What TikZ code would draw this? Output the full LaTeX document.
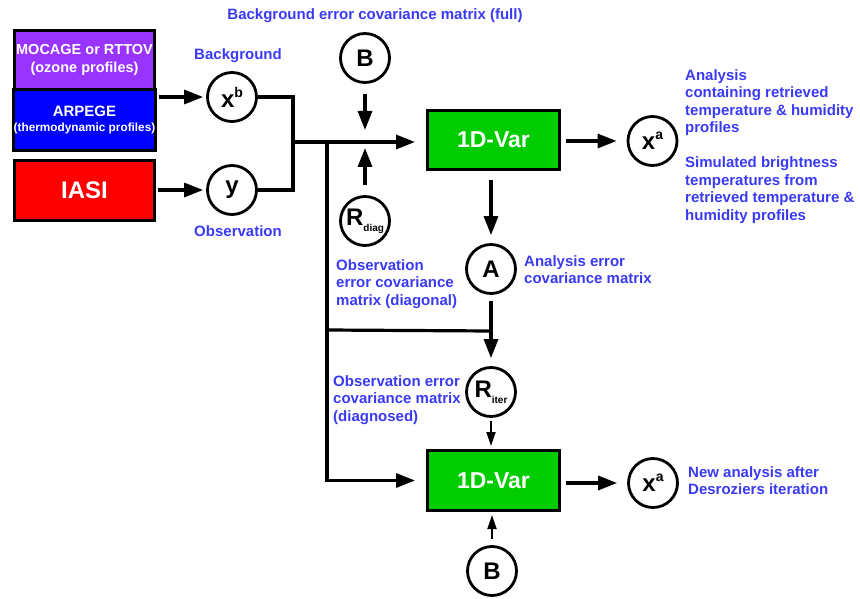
\documentclass[tikz,border=0pt]{standalone}
\usepackage{fontspec}
\setmainfont{Liberation Sans}
\usetikzlibrary{arrows.meta}

\definecolor{noteblue}{RGB}{58,58,245}
\definecolor{vargreen}{RGB}{0,204,0}
\definecolor{ozonepurple}{RGB}{153,51,255}

\newcommand{\supof}[2]{#1\raisebox{0.42em}{\fontsize{14}{14}\selectfont #2}}
\newcommand{\subof}[2]{#1\raisebox{-0.25em}{\fontsize{10}{10}\selectfont #2}}

\tikzset{
  varcircle/.style={circle, draw, line width=2.8pt, minimum size=49pt, inner sep=0pt,
    font=\bfseries\fontsize{24}{24}\selectfont},
  source/.style={draw, line width=3pt, minimum width=140pt, inner sep=0pt,
    text=white, align=center},
  solver/.style={draw, line width=3pt, fill=vargreen, minimum width=132pt,
    minimum height=59pt, text=white, font=\bfseries\fontsize{23}{23}\selectfont},
  note/.style={text=noteblue, align=left, inner sep=0pt,
    font=\bfseries\fontsize{15}{17.5}\selectfont},
  flow/.style={line width=3.2pt, -{Triangle[length=19pt,width=14pt]}},
  thinflow/.style={line width=1.8pt, -{Triangle[length=14pt,width=9pt]}},
  wire/.style={line width=3.2pt}
}

\begin{document}
\begin{tikzpicture}[x=1pt,y=-1pt]
    \useasboundingbox (0,0) rectangle (860,599);

    % Model and instrument inputs
    \node[source, fill=ozonepurple, minimum height=59pt,
        font=\bfseries\fontsize{14.5}{18}\selectfont] (mocage) at (84.5,60.4)
        {MOCAGE or RTTOV\\(ozone profiles)};
    \node[source, fill=blue, minimum height=60.5pt,
        font=\bfseries\fontsize{15}{15}\selectfont] (arpege) at (84.5,120.2)
        {ARPEGE\\\fontsize{11.8}{14}\selectfont(thermodynamic profiles)};
    \node[source, fill=red, minimum height=60pt,
        font=\bfseries\fontsize{24}{24}\selectfont] (iasi) at (84.5,190.5) {IASI};

    % Background and observation
    \node[varcircle] (xb) at (232,97) {\supof{x}{b}};
    \node[varcircle] (obs) at (232,190) {y};
    \node[note] (bgtext) at (238,56) {Background};
    \node[note] (obstext) at (238,231) {Observation};

    % First 1D-Var
    \node[varcircle] (bfull) at (365,58) {B};
    \node[varcircle] (rdiag) at (365,221) {\subof{R}{diag}};
    \node[solver] (var) at (493.5,140) {1D-Var};
    \node[varcircle] (xa) at (652.5,141) {\supof{x}{a}};
    \node[varcircle] (aerr) at (491,269) {A};

    % Second 1D-Var
    \node[varcircle] (riter) at (491,392) {\subof{R}{iter}};
    \node[solver, minimum height=60pt] (newvar) at (493.5,480.5) {1D-Var};
    \node[varcircle] (newxa) at (653,483) {\supof{x}{a}};
    \node[varcircle] (bnew) at (492,571) {B};

    % Junctions
    \coordinate (join) at (293,142);
    \coordinate (fork) at (327,142);
    \coordinate (bend) at (327,330);
    \coordinate (merge) at (491,331);
    \coordinate (inb) at (365,130);
    \coordinate (inr) at (365,148);

    % Connectors
    \draw[flow, shorten <=2pt, shorten >=3pt] (arpege.east |- xb) -- (xb);
    \draw[flow, shorten <=2pt, shorten >=3pt] (iasi.east |- obs) -- (obs);
    \draw[wire] (xb) -| (join) |- (obs);
    \draw[flow, shorten >=11pt] (join) -- (join -| var.west);
    \draw[flow, shorten <=10pt] (bfull) -- (inb);
    \draw[flow, shorten <=10pt] (rdiag) -- (inr);
    \draw[flow, shorten <=5pt, shorten >=10pt] (var.east |- xa) -- (xa);
    \draw[flow, shorten <=9pt, shorten >=8pt] (var.south -| aerr) -- (aerr);
    \draw[flow, shorten <=6pt, shorten >=8pt] (aerr) -- (riter);
    \draw[wire] (bend) -- (merge);
    \draw[flow, shorten >=11pt] (fork) |- (newvar.west);
    \draw[thinflow, shorten <=3pt, shorten >=3pt] (riter) -- (riter |- newvar.north);
    \draw[thinflow, shorten <=6pt, shorten >=3pt] (bnew) -- (bnew |- newvar.south);
    \draw[flow, shorten <=5pt, shorten >=10pt] (newvar.east |- newxa) -- (newxa);

    % Labels
    \node[note] (bfulltext) at (375,16) {Background error covariance matrix (full)};
    \node[note, anchor=north west] (xatext) at (685,69)
        {Analysis\\containing retrieved\\temperature \& humidity\\profiles\\[17.5pt]Simulated brightness\\temperatures from\\retrieved temperature \&\\humidity profiles};
    \node[note, anchor=north west] (aerrtext) at (524,255) {Analysis error\\covariance matrix};
    \node[note, anchor=north west] (rdiagtext) at (336,259) {Observation\\error covariance\\matrix (diagonal)};
    \node[note, anchor=north west] (ritertext) at (333,375) {Observation error\\covariance matrix\\(diagnosed)};
    \node[note, anchor=north west] (newxatext) at (688,466) {New analysis after\\Desroziers iteration};
\end{tikzpicture}
\end{document}
